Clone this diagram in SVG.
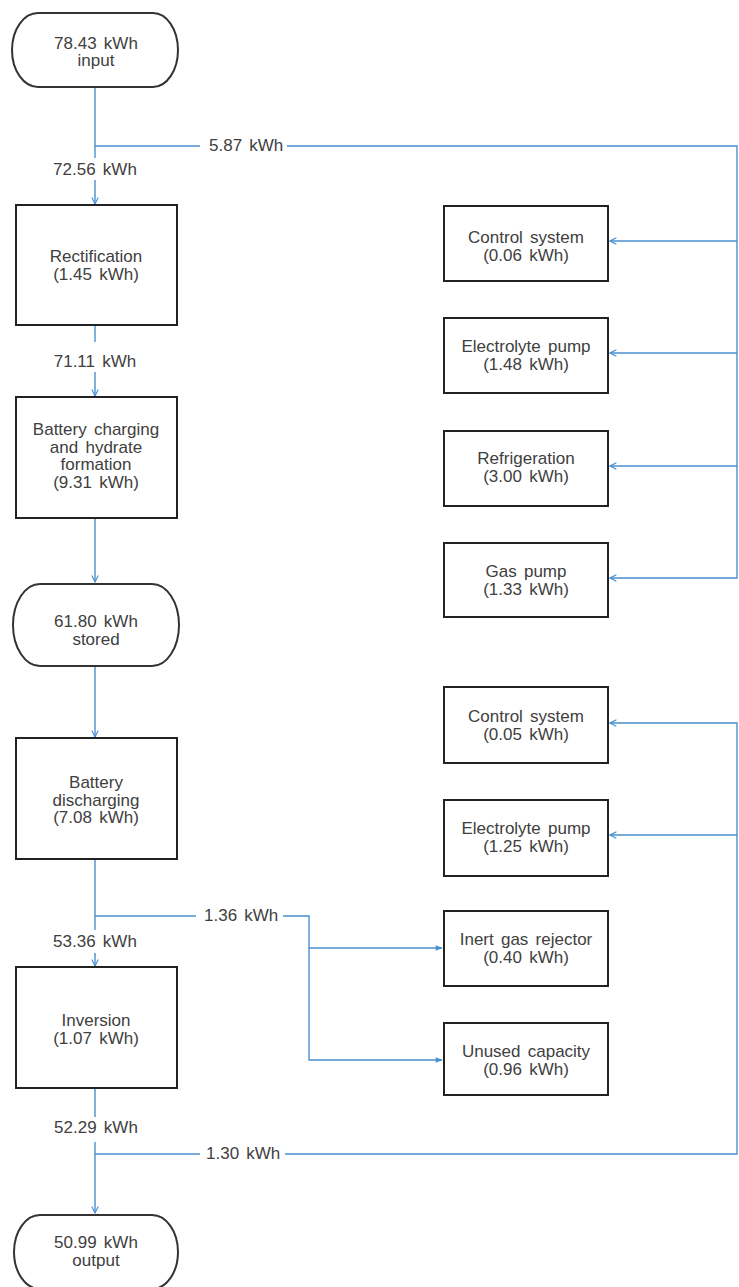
<svg xmlns="http://www.w3.org/2000/svg" width="739" height="1287" viewBox="0 0 739 1287">
<defs>
<style>
text{font-family:"Liberation Sans",Arial,sans-serif;font-size:17px;fill:#404040;text-anchor:middle;word-spacing:2.5px}
.lbl{text-anchor:start}
.box{fill:#fff;stroke:#222;stroke-width:2}
.term{fill:#fff;stroke:#333;stroke-width:2}
.c{fill:none;stroke:#4a8fd0;stroke-width:1.4}
</style>
<marker id="ao" viewBox="0 0 10 10" refX="9" refY="5" markerWidth="8" markerHeight="8" orient="auto" markerUnits="userSpaceOnUse">
<path d="M1,1 L9,5 L1,9" fill="none" stroke="#4a8fd0" stroke-width="1.4"/>
</marker>
<marker id="af" viewBox="0 0 10 10" refX="9" refY="5" markerWidth="8" markerHeight="7" orient="auto" markerUnits="userSpaceOnUse">
<path d="M0,1 L10,5 L0,9 Z" fill="#4a8fd0"/>
</marker>
</defs>
<rect width="739" height="1287" fill="#fff"/>

<g id="connectors">
<path class="c" d="M95,87 V158"/>
<path class="c" d="M95,180 V204" marker-end="url(#ao)"/>
<path class="c" d="M95,146 H200"/>
<path class="c" d="M287,146 H737 V578 H610" marker-end="url(#ao)"/>
<path class="c" d="M737,241 H610" marker-end="url(#ao)"/>
<path class="c" d="M737,353 H610" marker-end="url(#ao)"/>
<path class="c" d="M737,466 H610" marker-end="url(#ao)"/>
<path class="c" d="M95,325 V342"/>
<path class="c" d="M95,372 V396" marker-end="url(#ao)"/>
<path class="c" d="M95,518 V582" marker-end="url(#ao)"/>
<path class="c" d="M95,666 V737" marker-end="url(#ao)"/>
<path class="c" d="M95,859 V930"/>
<path class="c" d="M95,953 V966" marker-end="url(#ao)"/>
<path class="c" d="M95,916 H196"/>
<path class="c" d="M283,916 H309 V1060 H442" marker-end="url(#af)"/>
<path class="c" d="M309,948 H442" marker-end="url(#af)"/>
<path class="c" d="M95,1088 V1117"/>
<path class="c" d="M95,1142 V1213" marker-end="url(#ao)"/>
<path class="c" d="M95,1154 H200"/>
<path class="c" d="M285,1154 H737 V723 H610" marker-end="url(#ao)"/>
<path class="c" d="M737,835 H610" marker-end="url(#ao)"/>
<text x="95" y="175">72.56 kWh</text>
<text class="lbl" x="209" y="151">5.87 kWh</text>
<text x="95" y="367">71.11 kWh</text>
<text x="95" y="947">53.36 kWh</text>
<text class="lbl" x="204" y="921">1.36 kWh</text>
<text x="96" y="1133">52.29 kWh</text>
<text class="lbl" x="206" y="1159">1.30 kWh</text>
</g>

<g id="input">
<path class="term" d="M38,13 H153 A25,37 0 0 1 153,87 H38 A26,37 0 0 1 38,13 Z"/>
<text x="96" y="49">78.43 kWh</text>
<text x="96" y="66">input</text>
</g>

<g id="rectification">
<rect class="box" x="16" y="205" width="161" height="120"/>
<text x="96" y="262">Rectification</text>
<text x="96" y="280">(1.45 kWh)</text>
</g>

<g id="charging">
<rect class="box" x="16" y="397" width="161" height="121"/>
<text x="96" y="435">Battery charging</text>
<text x="96" y="453">and hydrate</text>
<text x="96" y="470">formation</text>
<text x="96" y="488">(9.31 kWh)</text>
</g>

<g id="stored">
<path class="term" d="M40,584 H152 A27,41 0 0 1 152,666 H40 A27,41 0 0 1 40,584 Z"/>
<text x="96" y="627">61.80 kWh</text>
<text x="96" y="645">stored</text>
</g>

<g id="discharging">
<rect class="box" x="16" y="738" width="161" height="121"/>
<text x="96" y="788">Battery</text>
<text x="96" y="806">discharging</text>
<text x="96" y="823">(7.08 kWh)</text>
</g>

<g id="inversion">
<rect class="box" x="16" y="967" width="161" height="121"/>
<text x="96" y="1026">Inversion</text>
<text x="96" y="1044">(1.07 kWh)</text>
</g>

<g id="output">
<path class="term" d="M40,1215 H152 A26,37 0 0 1 152,1289 H40 A26,37 0 0 1 40,1215 Z"/>
<text x="96" y="1248">50.99 kWh</text>
<text x="96" y="1266">output</text>
</g>

<g id="control1">
<rect class="box" x="444" y="206" width="164" height="75"/>
<text x="526" y="243">Control system</text>
<text x="526" y="261">(0.06 kWh)</text>
</g>

<g id="electrolyte1">
<rect class="box" x="444" y="318" width="164" height="75"/>
<text x="526" y="352">Electrolyte pump</text>
<text x="526" y="370">(1.48 kWh)</text>
</g>

<g id="refrigeration">
<rect class="box" x="444" y="431" width="164" height="75"/>
<text x="526" y="464">Refrigeration</text>
<text x="526" y="482">(3.00 kWh)</text>
</g>

<g id="gaspump">
<rect class="box" x="444" y="543" width="164" height="74"/>
<text x="526" y="577">Gas pump</text>
<text x="526" y="595">(1.33 kWh)</text>
</g>

<g id="control2">
<rect class="box" x="444" y="687" width="164" height="76"/>
<text x="526" y="722">Control system</text>
<text x="526" y="740">(0.05 kWh)</text>
</g>

<g id="electrolyte2">
<rect class="box" x="444" y="800" width="164" height="76"/>
<text x="526" y="834">Electrolyte pump</text>
<text x="526" y="852">(1.25 kWh)</text>
</g>

<g id="inertgas">
<rect class="box" x="444" y="911" width="164" height="75"/>
<text x="526" y="945">Inert gas rejector</text>
<text x="526" y="963">(0.40 kWh)</text>
</g>

<g id="unused">
<rect class="box" x="444" y="1023" width="164" height="72"/>
<text x="526" y="1057">Unused capacity</text>
<text x="526" y="1075">(0.96 kWh)</text>
</g>
</svg>
